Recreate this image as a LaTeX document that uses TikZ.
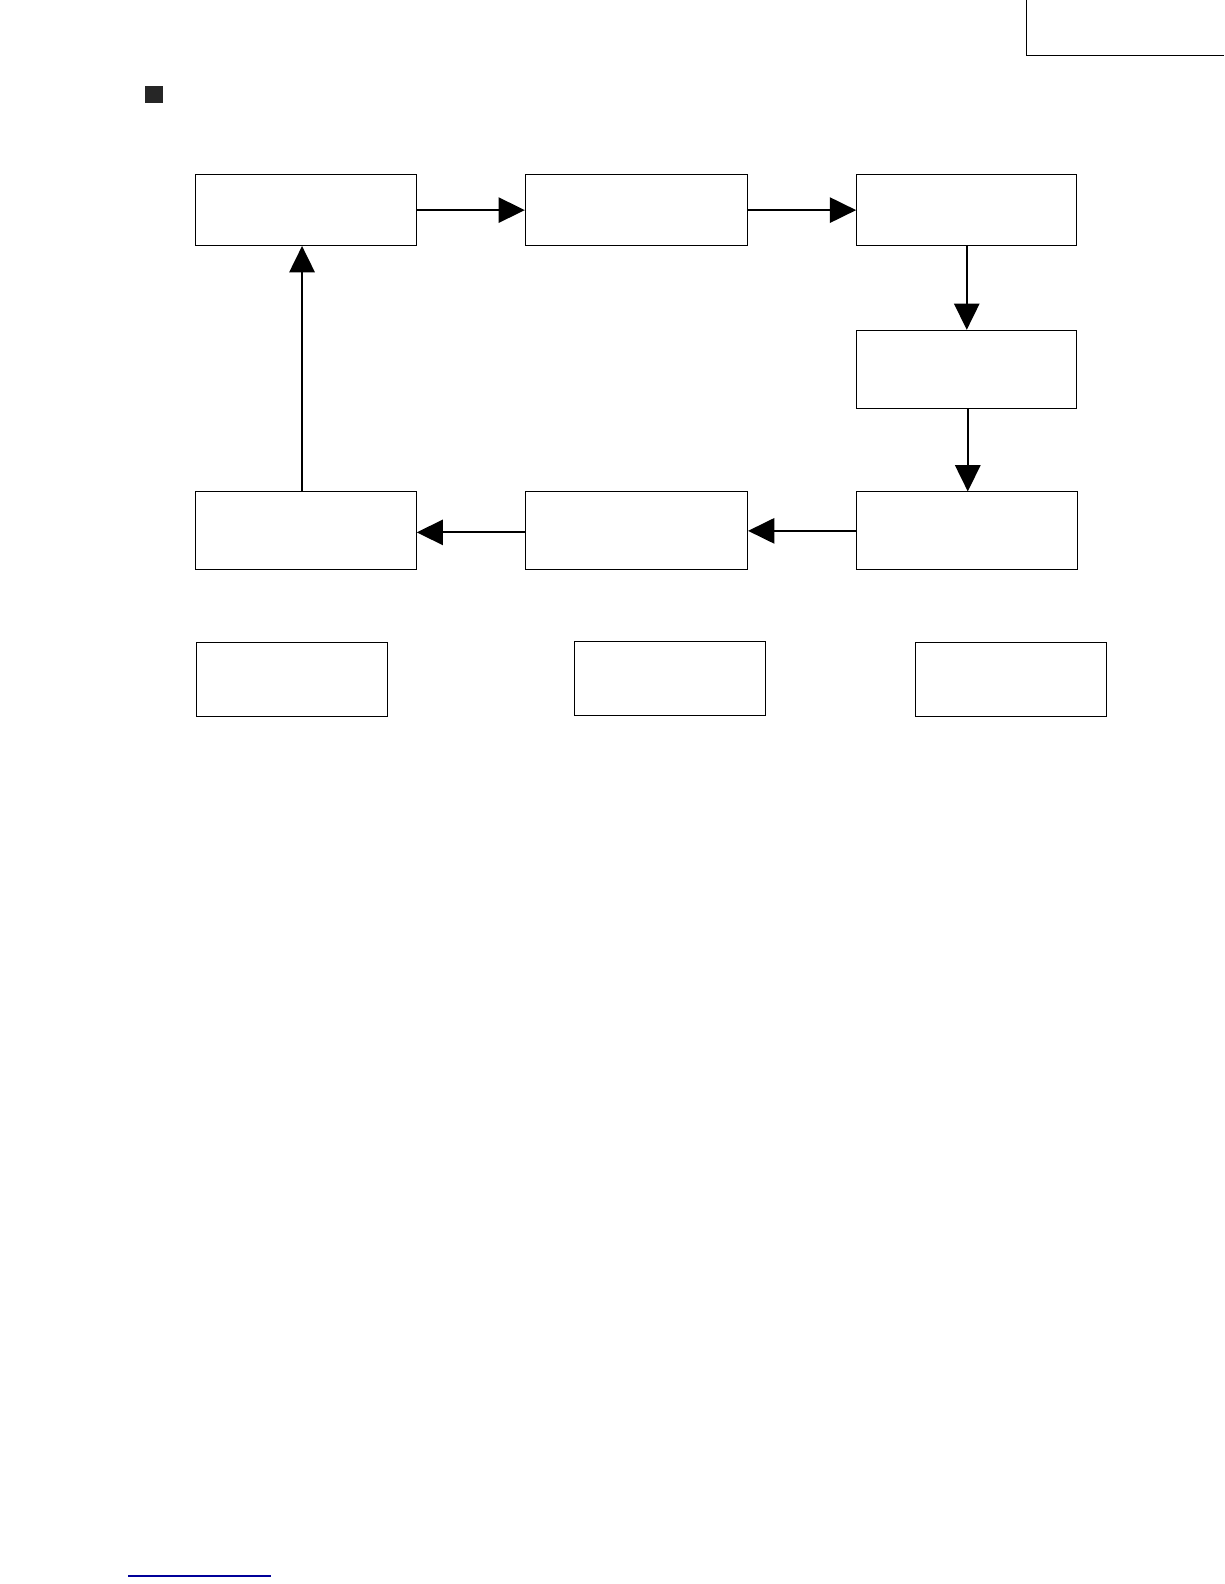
\documentclass[tikz,border=0pt]{standalone}
\usetikzlibrary{arrows.meta}
\begin{document}
\begin{tikzpicture}[x=1pt,y=-1pt,
  box/.style={draw,line width=1pt},
  conn/.style={line width=2pt,-{Triangle[length=26pt,width=25pt]}}]
\useasboundingbox (0,0) rectangle (1212,1568);
\draw[line width=1.5pt] (1016,0) -- (1016,55) -- (1212,55);
\fill[black!85] (144,85) rectangle (161,102);
\draw[blue!60!black,line width=1.5pt] (127,1560) -- (268,1560);
\node[box,minimum width=218pt,minimum height=70pt] (a) at (303,208) {};
\node[box,minimum width=220pt,minimum height=70pt] (b) at (630,208) {};
\node[box,minimum width=218pt,minimum height=70pt] (c) at (957,208) {};
\node[box,minimum width=218pt,minimum height=77pt] (d) at (957,365.5) {};
\node[box,minimum width=219pt,minimum height=77pt] (e) at (957.5,525.5) {};
\node[box,minimum width=220pt,minimum height=77pt] (f) at (630,525.5) {};
\node[box,minimum width=218pt,minimum height=77pt] (g) at (303,525.5) {};
\node[box,minimum width=189pt,minimum height=73pt] (h) at (289.5,672.5) {};
\node[box,minimum width=189pt,minimum height=73pt] (i) at (663.5,671.5) {};
\node[box,minimum width=189pt,minimum height=73pt] (j) at (1000.5,672.5) {};
\draw[conn] (a.east) -- (b.west);
\draw[conn] (b.east) -- (c.west);
\draw[conn] (c.south) -- (d.north);
\draw[conn] (d.south -| 958,0) -- (e.north -| 958,0);
\draw[conn] (e.west) -- (f.east);
\draw[conn] (f.west |- 0,527) -- (g.east |- 0,527);
\draw[conn] (g.north -| 299,0) -- (a.south -| 299,0);
\end{tikzpicture}
\end{document}
